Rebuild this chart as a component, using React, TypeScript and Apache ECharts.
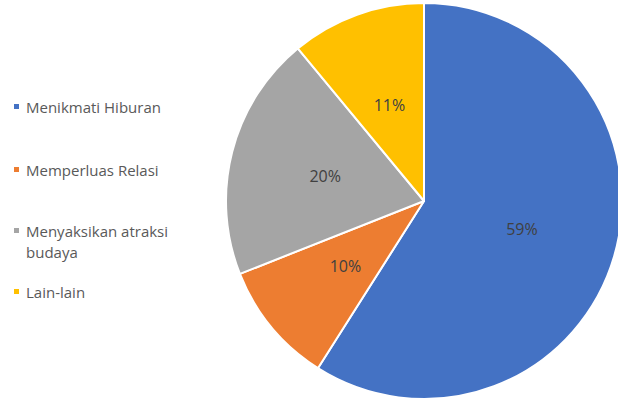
import React, { useEffect, useRef } from "react";
import * as echarts from "echarts";

const categories = ["Menikmati Hiburan", "Memperluas Relasi", "Menyaksikan atraksi budaya", "Lain-lain"];
const values = [59, 10, 20, 11];
const colors = ["#4472C4", "#ED7D31", "#A5A5A5", "#FFC000"];
const legendTops = [91, 154, 194, 276];

export default function App() {
  const ref = useRef<HTMLDivElement>(null);
  useEffect(() => {
    if (!ref.current) return;
    const chart = echarts.init(ref.current, undefined, { renderer: "svg" });
    const font = "Open Sans";
    chart.setOption({
      animation: false,
      backgroundColor: "#ffffff",
      color: colors,
      legend: categories.map((name, i) => {
        const wrapped = name === "Menyaksikan atraksi budaya";
        return {
          data: [name],
          left: 7,
          top: legendTops[i],
          orient: "vertical",
          icon: "rect",
          itemWidth: 7,
          itemHeight: 7,
          itemGap: 0,
          selectedMode: false,
          formatter: (n: string) => (wrapped ? " \nMenyaksikan atraksi\nbudaya" : n),
          textStyle: {
            color: "#595959",
            fontSize: 15,
            fontFamily: font,
            lineHeight: 21,
            padding: [0, 0, 0, 1],
          },
        };
      }),
      series: [
        {
          type: "pie",
          center: [424, 201],
          radius: 198,
          startAngle: 90,
          clockwise: true,
          data: categories.map((name, i) => ({ name, value: values[i] })),
          itemStyle: { borderColor: "#ffffff", borderWidth: 2 },
          label: {
            position: "inside",
            formatter: "{d}%",
            color: "#404040",
            fontSize: 16,
            fontFamily: font,
          },
          labelLine: { show: false },
        },
      ],
    });
    return () => chart.dispose();
  }, []);
  return <div ref={ref} style={{ width: 618, height: 400, position: "absolute", left: 0, top: 0 }} />;
}
